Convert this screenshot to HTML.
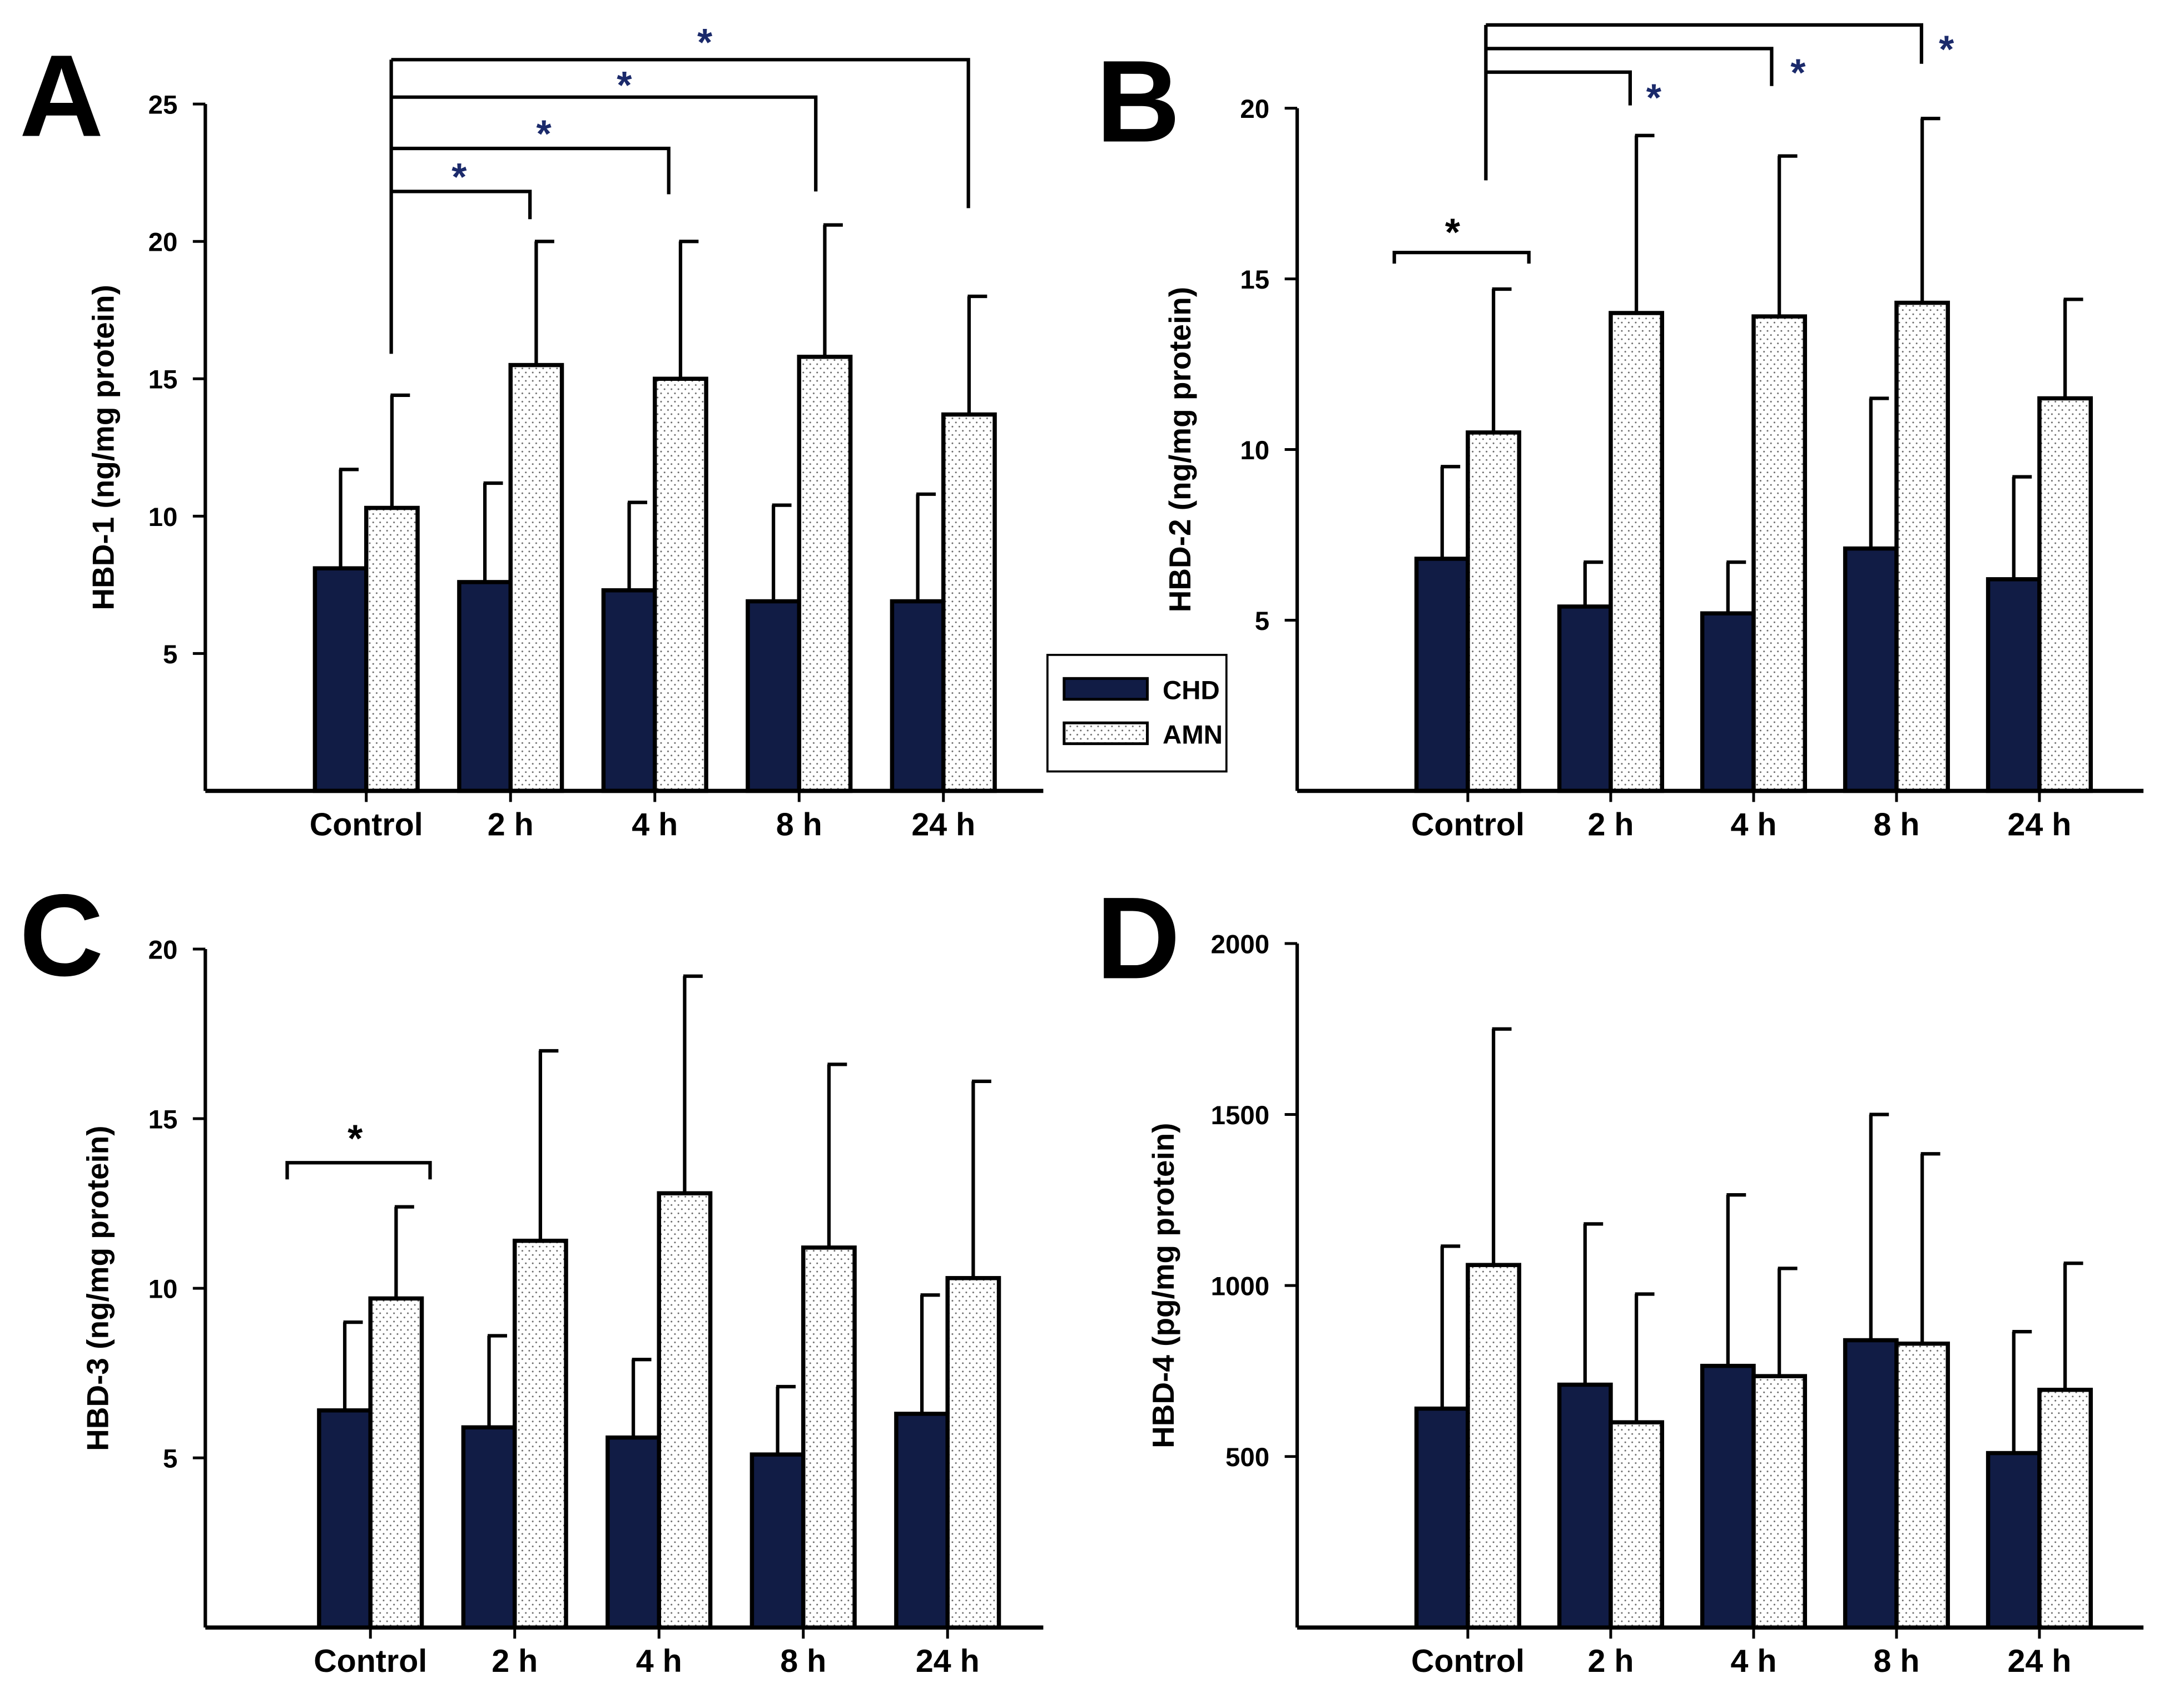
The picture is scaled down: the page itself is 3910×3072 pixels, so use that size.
<!DOCTYPE html>
<html><head><meta charset="utf-8"><style>
html,body{margin:0;padding:0;background:#fff;}
svg{display:block;}
text{font-family:"Liberation Sans",Arial,sans-serif;font-weight:bold;}
</style></head>
<body>
<svg id="fig" width="3910" height="3072" viewBox="0 0 1567 1231" preserveAspectRatio="none" xmlns="http://www.w3.org/2000/svg">
<defs>
<pattern id="dots" width="5" height="6" patternUnits="userSpaceOnUse">
<rect width="5" height="6" fill="#fff"/>
<circle cx="1.5" cy="1.5" r="0.6" fill="#666"/>
<circle cx="4" cy="4.5" r="0.6" fill="#666"/>
</pattern>
</defs>
<g id="root"></g>
</svg>
<script>
const categories = ["Control","2 h","4 h","8 h","24 h"];
const aChd = [8.1,7.6,7.3,6.9,6.9];
const aChdErr = [11.7,11.2,10.5,10.4,10.8];
const aAmn = [10.3,15.5,15.0,15.8,13.7];
const aAmnErr = [14.4,20.0,20.0,20.6,18.0];
const bChd = [6.8,5.4,5.2,7.1,6.2];
const bChdErr = [9.5,6.7,6.7,11.5,9.2];
const bAmn = [10.5,14.0,13.9,14.3,11.5];
const bAmnErr = [14.7,19.2,18.6,19.7,14.4];
const cChd = [6.4,5.9,5.6,5.1,6.3];
const cChdErr = [9.0,8.6,7.9,7.1,9.8];
const cAmn = [9.7,11.4,12.8,11.2,10.3];
const cAmnErr = [12.4,17.0,19.2,16.6,16.1];
const dChd = [640,710,765,840,510];
const dChdErr = [1115,1180,1265,1500,865];
const dAmn = [1060,600,735,830,695];
const dAmnErr = [1750,975,1050,1385,1065];
const aTicks = [5,10,15,20,25];
const bTicks = [5,10,15,20];
const cTicks = [5,10,15,20];
const dTicks = [500,1000,1500,2000];

const NS="http://www.w3.org/2000/svg";
const root=document.getElementById('root');
function mk(tag,attrs,parent,txt){const e=document.createElementNS(NS,tag);for(const k in attrs)e.setAttribute(k,attrs[k]);if(txt!==undefined)e.textContent=txt;(parent||root).appendChild(e);return e;}

function panel(o){
  const g=mk('g',{});
  
  
  const y=v=>o.y0-(v/o.max)*(o.y0-o.yTop);
  const x=i=>o.x0+o.first+i*o.step;
  const bw=37;
  categories.forEach((c,i)=>{
    const cx=x(i);
    [[o.chd[i],o.chdE[i],cx-bw,'#111c45','chd'],[o.amn[i],o.amnE[i],cx,'url(#dots)','amn']].forEach(([v,e,bx,fill,s])=>{
      const ex=bx+bw/2;
      const el=mk('line',{x1:ex,x2:ex,y1:y(v),y2:y(e),stroke:'#000','stroke-width':2.5},g);
      
      
      const cap=mk('line',{x1:ex-1,x2:ex+13,y1:y(e),y2:y(e),stroke:'#000','stroke-width':2.5},g);
      
      
      const r=mk('rect',{x:bx,y:y(v),width:bw,height:o.y0-y(v),fill:fill,stroke:'#000','stroke-width':3},g);
      
      
    });
    const t=mk('line',{x1:cx,x2:cx,y1:o.y0,y2:o.y0+8,stroke:'#000','stroke-width':2},g);
    
    
    const lab=mk('text',{x:cx,y:o.y0+32,'font-size':23,'text-anchor':'middle'},g,c);
    
    
  });
  const ya=mk('line',{x1:o.x0,x2:o.x0,y1:o.yTop,y2:o.y0,stroke:'#000','stroke-width':2.5},g);
  
  
  const xa=mk('line',{x1:o.x0,x2:o.x1,y1:o.y0,y2:o.y0,stroke:'#000','stroke-width':3},g);
  
  
  o.ticks.forEach(t=>{
    const tk=mk('line',{x1:o.x0-9,x2:o.x0,y1:y(t),y2:y(t),stroke:'#000','stroke-width':2},g);
    
    
    const tl=mk('text',{x:o.x0-20,y:y(t)+7,'font-size':19,'text-anchor':'end'},g,t);
    
    
  });
  const yt=mk('text',{x:0,y:0,'font-size':22,'text-anchor':'middle',transform:`translate(${o.titleX},${(o.yTop+o.y0)/2}) rotate(-90)`},g,o.title);
  
  
  const L=mk('text',{x:o.letterX,y:o.letterY,'font-size':84,'text-anchor':'start'},g,o.id);
  
  
  return {g,y,x};
}
function path(d,name,g){const p=mk('path',{d:d,fill:'none',stroke:'#000','stroke-width':2.5},g);return p;}
function star(xx,yy,col,name,g){const s=mk('text',{x:xx,y:yy,'font-size':28,'text-anchor':'middle',fill:col},g,'*');}

const A=panel({id:'A',x0:148,x1:752,y0:570,yTop:75,max:25,first:116,step:104,chd:aChd,chdE:aChdErr,amn:aAmn,amnE:aAmnErr,ticks:aTicks,title:'HBD-1 (ng/mg protein)',titleX:82,letterX:14,letterY:98});
const B=panel({id:'B',x0:935,x1:1545,y0:570,yTop:78,max:20,first:123,step:103,chd:bChd,chdE:bChdErr,amn:bAmn,amnE:bAmnErr,ticks:bTicks,title:'HBD-2 (ng/mg protein)',titleX:858,letterX:790,letterY:102});
const C=panel({id:'C',x0:148,x1:752,y0:1173,yTop:684,max:20,first:119,step:104,chd:cChd,chdE:cChdErr,amn:cAmn,amnE:cAmnErr,ticks:cTicks,title:'HBD-3 (ng/mg protein)',titleX:78,letterX:14,letterY:703});
const D=panel({id:'D',x0:935,x1:1545,y0:1173,yTop:680,max:2000,first:123,step:103,chd:dChd,chdE:dChdErr,amn:dAmn,amnE:dAmnErr,ticks:dTicks,title:'HBD-4 (pg/mg protein)',titleX:846,letterX:790,letterY:705});

const blue='#1b2a6b';
path('M282 255 V43 M282 138 H382 V158 M282 107 H482 V140 M282 70 H588 V138 M282 43 H698 V150','significance-brackets-a',A.g);
star(331,137,blue,'star',A.g);star(392,106,blue,'star',A.g);star(450,71,blue,'star',A.g);star(508,40,blue,'star',A.g);
path('M1071 130 V18 M1071 52 H1175 V76 M1071 35 H1277 V62 M1071 18 H1385 V46','significance-brackets-b',B.g);
path('M1005 190 V182 H1102 V190','significance-bracket-b-control',B.g);
star(1192,80,blue,'star',B.g);star(1296,62,blue,'star',B.g);star(1403,45,blue,'star',B.g);star(1047,177,'#000','star',B.g);
path('M207 850 V838 H310 V850','significance-bracket-c',C.g);
star(256,830,'#000','star',C.g);

const lg=mk('g',{});


mk('rect',{x:755,y:472,width:129,height:84,fill:'#fff',stroke:'#000','stroke-width':1.5},lg);
const l1=mk('rect',{x:767,y:489,width:60,height:15,fill:'#111c45',stroke:'#000','stroke-width':2},lg);

const t1=mk('text',{x:838,y:504,'font-size':19,'font-weight':'normal'},lg,'CHD');

const l2=mk('rect',{x:767,y:521,width:60,height:15,fill:'url(#dots)',stroke:'#000','stroke-width':2},lg);

const t2=mk('text',{x:838,y:536,'font-size':19,'font-weight':'normal'},lg,'AMN');

</script>
</body></html>
